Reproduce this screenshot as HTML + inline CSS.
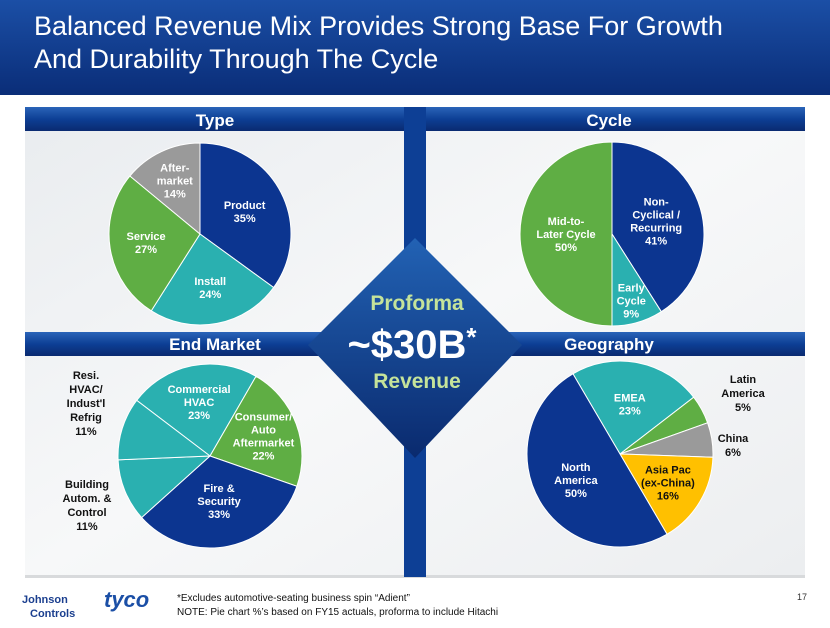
<!DOCTYPE html>
<html><head><meta charset="utf-8"><style>
body{margin:0;width:830px;height:623px;overflow:hidden;background:#fff;font-family:"Liberation Sans",sans-serif;}
</style></head><body>
<svg width="830" height="623" viewBox="0 0 830 623" xmlns="http://www.w3.org/2000/svg" font-family="Liberation Sans, sans-serif">
<defs>
<linearGradient id="tb" x1="0" y1="0" x2="0" y2="1"><stop offset="0" stop-color="#1b4fa6"/><stop offset="1" stop-color="#0a2d78"/></linearGradient>
<linearGradient id="hb" x1="0" y1="0" x2="0" y2="1"><stop offset="0" stop-color="#2a64b8"/><stop offset="0.5" stop-color="#0d3f95"/><stop offset="1" stop-color="#0a2a70"/></linearGradient>
<linearGradient id="dm" x1="0" y1="0" x2="0" y2="1"><stop offset="0" stop-color="#2262b4"/><stop offset="1" stop-color="#0a2a6e"/></linearGradient>
<linearGradient id="pn" x1="0" y1="0" x2="1" y2="1"><stop offset="0" stop-color="#e9ecef"/><stop offset="0.5" stop-color="#f7f8f9"/><stop offset="1" stop-color="#eceef0"/></linearGradient>
</defs>
<rect x="0" y="0" width="830" height="95" fill="url(#tb)"/>
<text fill="#fff" font-size="27" x="34" y="35">Balanced Revenue Mix Provides Strong Base For Growth</text>
<text fill="#fff" font-size="27" x="34" y="68">And Durability Through The Cycle</text>
<rect x="25" y="107" width="780" height="468" fill="url(#pn)"/>
<rect x="25" y="575" width="780" height="3" fill="#d8dadc"/>
<rect x="404" y="107" width="22" height="470" fill="#0d3f95"/>
<rect x="25" y="107" width="379" height="24" fill="url(#hb)"/>
<rect x="426" y="107" width="379" height="24" fill="url(#hb)"/>
<rect x="25" y="332" width="780" height="24" fill="url(#hb)"/>
<polygon points="415,238 522,345 415,458 308,345" fill="url(#dm)"/>
<text x="215" y="126" fill="#fff" font-size="17" font-weight="bold" text-anchor="middle">Type</text>
<text x="609" y="126" fill="#fff" font-size="17" font-weight="bold" text-anchor="middle">Cycle</text>
<text x="215" y="350" fill="#fff" font-size="17" font-weight="bold" text-anchor="middle">End Market</text>
<text x="609" y="350" fill="#fff" font-size="17" font-weight="bold" text-anchor="middle">Geography</text>
<text x="417" y="310" fill="#c5e39a" font-size="21" font-weight="bold" text-anchor="middle">Proforma</text>
<text x="412" y="358" fill="#fff" font-size="40" font-weight="bold" text-anchor="middle">~$30B<tspan font-size="26" dy="-12">*</tspan></text>
<text x="417" y="388" fill="#c5e39a" font-size="21" font-weight="bold" text-anchor="middle">Revenue</text>
<g id="pies"></g>
<g font-size="11" font-weight="bold" fill="#111" text-anchor="middle">
<text x="86" y="379">Resi.</text><text x="86" y="393">HVAC/</text><text x="86" y="407">Indust'l</text><text x="86" y="421">Refrig</text><text x="86" y="435">11%</text>
<text x="87" y="488">Building</text><text x="87" y="502">Autom. &amp;</text><text x="87" y="516">Control</text><text x="87" y="530">11%</text>
<text x="743" y="383">Latin</text><text x="743" y="397">America</text><text x="743" y="411">5%</text>
<text x="733" y="442">China</text><text x="733" y="456">6%</text>
</g>
<text x="22" y="603" fill="#1b3f8f" font-size="11" font-weight="bold">Johnson</text>
<text x="30" y="617" fill="#1b3f8f" font-size="11" font-weight="bold">Controls</text>
<text x="104" y="607" fill="#1b4fa6" font-size="22" font-weight="bold" font-style="italic">tyco</text>
<text x="177" y="601" fill="#111" font-size="10">*Excludes automotive-seating business spin “Adient”</text>
<text x="177" y="615" fill="#111" font-size="10">NOTE: Pie chart %’s based on FY15 actuals, proforma to include Hitachi</text>
<text x="797" y="600" fill="#333" font-size="9">17</text>
</svg>
<script>
const typeCats=["Product","Install","Service","After-market"];
const typeVals=[35,24,27,14];
const cycleCats=["Non-Cyclical / Recurring","Early Cycle","Mid-to-Later Cycle"];
const cycleVals=[41,9,50];
const endCats=["Commercial HVAC","Consumer/Auto Aftermarket","Fire & Security","Building Autom. & Control","Resi. HVAC/Indust'l Refrig"];
const endVals=[23,22,33,11,11];
const geoCats=["EMEA","Latin America","China","Asia Pac (ex-China)","North America"];
const geoVals=[23,5,6,16,50];
const NS="http://www.w3.org/2000/svg";
const g=document.getElementById('pies');
function pie(name,cats,vals,cx,cy,r,start,colors,labels){
  const tot=vals.reduce((a,b)=>a+b,0);let a=start;
  vals.forEach((v,i)=>{
    const a0=a,a1=a+v/tot*360;a=a1;
    const p=t=>[cx+r*Math.sin(t*Math.PI/180),cy-r*Math.cos(t*Math.PI/180)];
    const [x0,y0]=p(a0),[x1,y1]=p(a1);
    const path=document.createElementNS(NS,'path');
    path.setAttribute('d',`M${cx},${cy}L${x0},${y0}A${r},${r} 0 ${a1-a0>180?1:0} 1 ${x1},${y1}Z`);
    path.setAttribute('fill',colors[i]);path.setAttribute('stroke','#fff');path.setAttribute('stroke-width','1');
    
    
    g.appendChild(path);
    const lb=labels[i];if(!lb)return;
    const mid=(a0+a1)/2,lr=r*lb.f;
    const lx=cx+lr*Math.sin(mid*Math.PI/180),ly=cy-lr*Math.cos(mid*Math.PI/180);
    const lines=lb.t.concat([v+'%']);
    lines.forEach((s,j)=>{
      const t=document.createElementNS(NS,'text');
      t.setAttribute('x',lx);t.setAttribute('y',ly+(j-(lines.length-1)/2)*13+4);
      t.setAttribute('fill',lb.c||'#fff');t.setAttribute('font-size','11');t.setAttribute('font-weight','bold');t.setAttribute('text-anchor','middle');
      
      
      t.textContent=s;g.appendChild(t);
    });
  });
}
const B="#0c3590",T="#2ab0b0",G="#5fae44",Y="#9a9a9a",O="#ffc000";
pie('type-pie',typeCats,typeVals,200,234,91,0,[B,T,G,Y],[{t:["Product"],f:.55},{t:["Install"],f:.6},{t:["Service"],f:.6},{t:["After-","market"],f:.65}]);
pie('cycle-pie',cycleCats,cycleVals,612,234,92,0,[B,T,G],[{t:["Non-","Cyclical  /","Recurring"],f:.5},{t:["Early","Cycle"],f:.75},{t:["Mid-to-","Later Cycle"],f:.5}]);
pie('end-market-pie',endCats,endVals,210,456,92,307.2,[T,G,B,T,T],[{t:["Commercial","HVAC"],f:.6},{t:["Consumer/","Auto","Aftermarket"],f:.62},{t:["Fire &","Security"],f:.5},null,null]);
pie('geography-pie',geoCats,geoVals,620,454,93,329.6,[T,G,Y,O,B],[{t:["EMEA"],f:.55},null,null,{t:["Asia Pac","(ex-China)"],f:.6,c:"#111"},{t:["North","America"],f:.55}]);
</script>
</body></html>
